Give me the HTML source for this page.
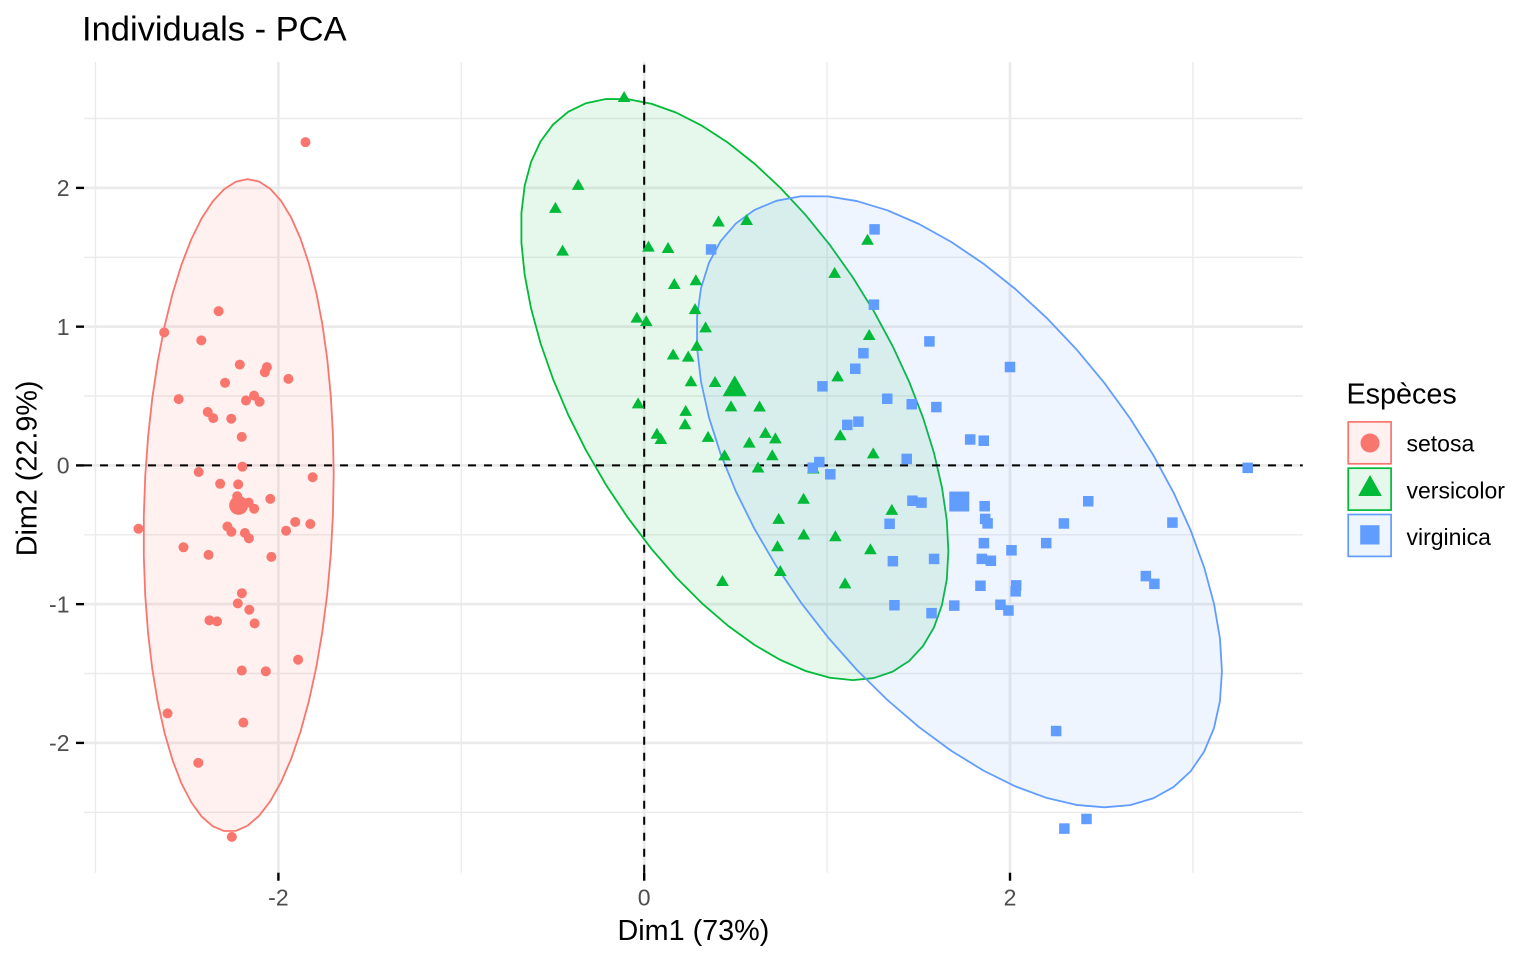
<!DOCTYPE html>
<html><head><meta charset="utf-8">
<style>
html,body{margin:0;padding:0;background:#fff;}
svg{display:block;font-family:"Liberation Sans",Arial,sans-serif;}
</style></head><body>
<svg id="s" width="1536" height="960" viewBox="0 0 1536 960">
<rect width="1536" height="960" fill="#fff"/>
<g stroke="#EBEBEB" fill="none">
  <g stroke-width="1.39">
    <line x1="95.5" y1="62" x2="95.5" y2="872.7"/>
    <line x1="461.3" y1="62" x2="461.3" y2="872.7"/>
    <line x1="827.1" y1="62" x2="827.1" y2="872.7"/>
    <line x1="1192.9" y1="62" x2="1192.9" y2="872.7"/>
    <line x1="84" y1="118.5" x2="1302.7" y2="118.5"/>
    <line x1="84" y1="257.3" x2="1302.7" y2="257.3"/>
    <line x1="84" y1="396" x2="1302.7" y2="396"/>
    <line x1="84" y1="534.8" x2="1302.7" y2="534.8"/>
    <line x1="84" y1="673.5" x2="1302.7" y2="673.5"/>
    <line x1="84" y1="812.3" x2="1302.7" y2="812.3"/>
  </g>
  <g stroke-width="2.7">
    <line x1="278.4" y1="62" x2="278.4" y2="872.7"/>
    <line x1="644.2" y1="62" x2="644.2" y2="872.7"/>
    <line x1="1010" y1="62" x2="1010" y2="872.7"/>
    <line x1="84" y1="187.9" x2="1302.7" y2="187.9"/>
    <line x1="84" y1="326.65" x2="1302.7" y2="326.65"/>
    <line x1="84" y1="465.4" x2="1302.7" y2="465.4"/>
    <line x1="84" y1="604.15" x2="1302.7" y2="604.15"/>
    <line x1="84" y1="742.9" x2="1302.7" y2="742.9"/>
  </g>
</g>
<g id="ell"></g>
<g stroke="#000" stroke-width="2" stroke-dasharray="8 8" fill="none">
  <line x1="84" y1="465.4" x2="1302.7" y2="465.4"/>
  <line x1="644.2" y1="872.7" x2="644.2" y2="62"/>
</g>
<g id="pts"></g>
<g stroke="#000" stroke-width="2.4">
  <line x1="278.4" y1="872.7" x2="278.4" y2="880.7"/>
  <line x1="644.2" y1="872.7" x2="644.2" y2="880.7"/>
  <line x1="1010" y1="872.7" x2="1010" y2="880.7"/>
  <line x1="76" y1="187.9" x2="84" y2="187.9"/>
  <line x1="76" y1="326.65" x2="84" y2="326.65"/>
  <line x1="76" y1="465.4" x2="84" y2="465.4"/>
  <line x1="76" y1="604.15" x2="84" y2="604.15"/>
  <line x1="76" y1="742.9" x2="84" y2="742.9"/>
</g>
<g fill="#4D4D4D" font-size="23">
  <text x="278.4" y="905.7" text-anchor="middle">-2</text>
  <text x="644.2" y="905.7" text-anchor="middle">0</text>
  <text x="1010" y="905.7" text-anchor="middle">2</text>
  <text x="69.5" y="196.1" text-anchor="end">2</text>
  <text x="69.5" y="334.85" text-anchor="end">1</text>
  <text x="69.5" y="473.6" text-anchor="end">0</text>
  <text x="69.5" y="612.35" text-anchor="end">-1</text>
  <text x="69.5" y="751.1" text-anchor="end">-2</text>
</g>
<text x="693.4" y="940" font-size="28.75" text-anchor="middle" fill="#000">Dim1 (73%)</text>
<text transform="translate(36.7,468.4) rotate(-90)" font-size="28.75" text-anchor="middle" fill="#000">Dim2 (22.9%)</text>
<text x="82" y="40.5" font-size="34.5" fill="#000">Individuals - PCA</text>
<text x="1346.5" y="403.3" font-size="28.75" fill="#000">Espèces</text>
<g stroke-width="1.7">
  <rect x="1348.2" y="421.9" width="42.9" height="41.9" fill="#FEF1F0" stroke="#F8766D"/>
  <rect x="1348.2" y="468.2" width="42.9" height="41.9" fill="#E6F8EB" stroke="#00BA38"/>
  <rect x="1348.2" y="514.5" width="42.9" height="41.9" fill="#EFF5FF" stroke="#619CFF"/>
</g>
<circle cx="1370" cy="443" r="9.5" fill="#F8766D"/>
<polygon points="1370,475 1381.8,496 1358.2,496" fill="#00BA38"/>
<rect x="1360.2" y="525.2" width="19.3" height="19.3" fill="#619CFF"/>
<g font-size="23" fill="#000">
  <text x="1406.5" y="451.7">setosa</text>
  <text x="1406.5" y="498.3">versicolor</text>
  <text x="1406.5" y="545">virginica</text>
</g>
</svg>
<script>
(function(){
var S=[[5.1,3.5,1.4,0.2],[4.9,3.0,1.4,0.2],[4.7,3.2,1.3,0.2],[4.6,3.1,1.5,0.2],[5.0,3.6,1.4,0.2],
[5.4,3.9,1.7,0.4],[4.6,3.4,1.4,0.3],[5.0,3.4,1.5,0.2],[4.4,2.9,1.4,0.2],[4.9,3.1,1.5,0.1],
[5.4,3.7,1.5,0.2],[4.8,3.4,1.6,0.2],[4.8,3.0,1.4,0.1],[4.3,3.0,1.1,0.1],[5.8,4.0,1.2,0.2],
[5.7,4.4,1.5,0.4],[5.4,3.9,1.3,0.4],[5.1,3.5,1.4,0.3],[5.7,3.8,1.7,0.3],[5.1,3.8,1.5,0.3],
[5.4,3.4,1.7,0.2],[5.1,3.7,1.5,0.4],[4.6,3.6,1.0,0.2],[5.1,3.3,1.7,0.5],[4.8,3.4,1.9,0.2],
[5.0,3.0,1.6,0.2],[5.0,3.4,1.6,0.4],[5.2,3.5,1.5,0.2],[5.2,3.4,1.4,0.2],[4.7,3.2,1.6,0.2],
[4.8,3.1,1.6,0.2],[5.4,3.4,1.5,0.4],[5.2,4.1,1.5,0.1],[5.5,4.2,1.4,0.2],[4.9,3.1,1.5,0.2],
[5.0,3.2,1.2,0.2],[5.5,3.5,1.3,0.2],[4.9,3.6,1.4,0.1],[4.4,3.0,1.3,0.2],[5.1,3.4,1.5,0.2],
[5.0,3.5,1.3,0.3],[4.5,2.3,1.3,0.3],[4.4,3.2,1.3,0.2],[5.0,3.5,1.6,0.6],[5.1,3.8,1.9,0.4],
[4.8,3.0,1.4,0.3],[5.1,3.8,1.6,0.2],[4.6,3.2,1.4,0.2],[5.3,3.7,1.5,0.2],[5.0,3.3,1.4,0.2]];
var V=[[7.0,3.2,4.7,1.4],[6.4,3.2,4.5,1.5],[6.9,3.1,4.9,1.5],[5.5,2.3,4.0,1.3],[6.5,2.8,4.6,1.5],
[5.7,2.8,4.5,1.3],[6.3,3.3,4.7,1.6],[4.9,2.4,3.3,1.0],[6.6,2.9,4.6,1.3],[5.2,2.7,3.9,1.4],
[5.0,2.0,3.5,1.0],[5.9,3.0,4.2,1.5],[6.0,2.2,4.0,1.0],[6.1,2.9,4.7,1.4],[5.6,2.9,3.6,1.3],
[6.7,3.1,4.4,1.4],[5.6,3.0,4.5,1.5],[5.8,2.7,4.1,1.0],[6.2,2.2,4.5,1.5],[5.6,2.5,3.9,1.1],
[5.9,3.2,4.8,1.8],[6.1,2.8,4.0,1.3],[6.3,2.5,4.9,1.5],[6.1,2.8,4.7,1.2],[6.4,2.9,4.3,1.3],
[6.6,3.0,4.4,1.4],[6.8,2.8,4.8,1.4],[6.7,3.0,5.0,1.7],[6.0,2.9,4.5,1.5],[5.7,2.6,3.5,1.0],
[5.5,2.4,3.8,1.1],[5.5,2.4,3.7,1.0],[5.8,2.7,3.9,1.2],[6.0,2.7,5.1,1.6],[5.4,3.0,4.5,1.5],
[6.0,3.4,4.5,1.6],[6.7,3.1,4.7,1.5],[6.3,2.3,4.4,1.3],[5.6,3.0,4.1,1.3],[5.5,2.5,4.0,1.3],
[5.5,2.6,4.4,1.2],[6.1,3.0,4.6,1.4],[5.8,2.6,4.0,1.2],[5.0,2.3,3.3,1.0],[5.6,2.7,4.2,1.3],
[5.7,3.0,4.2,1.2],[5.7,2.9,4.2,1.3],[6.2,2.9,4.3,1.3],[5.1,2.5,3.0,1.1],[5.7,2.8,4.1,1.3]];
var G=[[6.3,3.3,6.0,2.5],[5.8,2.7,5.1,1.9],[7.1,3.0,5.9,2.1],[6.3,2.9,5.6,1.8],[6.5,3.0,5.8,2.2],
[7.6,3.0,6.6,2.1],[4.9,2.5,4.5,1.7],[7.3,2.9,6.3,1.8],[6.7,2.5,5.8,1.8],[7.2,3.6,6.1,2.5],
[6.5,3.2,5.1,2.0],[6.4,2.7,5.3,1.9],[6.8,3.0,5.5,2.1],[5.7,2.5,5.0,2.0],[5.8,2.8,5.1,2.4],
[6.4,3.2,5.3,2.3],[6.5,3.0,5.5,1.8],[7.7,3.8,6.7,2.2],[7.7,2.6,6.9,2.3],[6.0,2.2,5.0,1.5],
[6.9,3.2,5.7,2.3],[5.6,2.8,4.9,2.0],[7.7,2.8,6.7,2.0],[6.3,2.7,4.9,1.8],[6.7,3.3,5.7,2.1],
[7.2,3.2,6.0,1.8],[6.2,2.8,4.8,1.8],[6.1,3.0,4.9,1.8],[6.4,2.8,5.6,2.1],[7.2,3.0,5.8,1.6],
[7.4,2.8,6.1,1.9],[7.9,3.8,6.4,2.0],[6.4,2.8,5.6,2.2],[6.3,2.8,5.1,1.5],[6.1,2.6,5.6,1.4],
[7.7,3.0,6.1,2.3],[6.3,3.4,5.6,2.4],[6.4,3.1,5.5,1.8],[6.0,3.0,4.8,1.8],[6.9,3.1,5.4,2.1],
[6.7,3.1,5.6,2.4],[6.9,3.1,5.1,2.3],[5.8,2.7,5.1,1.9],[6.8,3.2,5.9,2.3],[6.7,3.3,5.7,2.5],
[6.7,3.0,5.2,2.3],[6.3,2.5,5.0,1.9],[6.5,3.0,5.2,2.0],[6.2,3.4,5.4,2.3],[5.9,3.0,5.1,1.8]];
var groups=[S,V,G], all=S.concat(V,G), n=all.length;
var m=[0,0,0,0], sd=[0,0,0,0], i, j;
for(i=0;i<n;i++)for(j=0;j<4;j++)m[j]+=all[i][j];
for(j=0;j<4;j++)m[j]/=n;
for(i=0;i<n;i++)for(j=0;j<4;j++)sd[j]+=Math.pow(all[i][j]-m[j],2);
for(j=0;j<4;j++)sd[j]=Math.sqrt(sd[j]/(n-1));
var r1=[0.5210659,-0.2693474,0.5804131,0.5648565];
var r2=[-0.37741762,-0.92329566,-0.02449161,-0.06694199];
function sc(p){var a=0,b=0;for(var k=0;k<4;k++){var z=(p[k]-m[k])/sd[k];a+=z*r1[k];b+=z*r2[k];}return [a,b];}
function X(x){return 644.2+182.9*x;}
function Y(y){return 465.4-138.75*y;}
var cols=['#F8766D','#00BA38','#619CFF'];
var fills=['#F8766D','#00BA38','#619CFF'];
var rad=Math.sqrt(2*(49/2)*(Math.pow(0.05,-2/49)-1));
var ellH='', ptsH='', meanH='';
function shape(g,x,y,f){
  var c=cols[g];
  if(g===0){return '<circle cx="'+x.toFixed(2)+'" cy="'+y.toFixed(2)+'" r="'+(5*f).toFixed(2)+'" fill="'+c+'"/>';}
  if(g===1){var r=7.33*f, xc=6.35*f, yc=3.67*f;
    return '<polygon points="'+x.toFixed(2)+','+(y-r).toFixed(2)+' '+(x+xc).toFixed(2)+','+(y+yc).toFixed(2)+' '+(x-xc).toFixed(2)+','+(y+yc).toFixed(2)+'" fill="'+c+'"/>';}
  var h=5.25*f;
  return '<rect x="'+(x-h).toFixed(2)+'" y="'+(y-h).toFixed(2)+'" width="'+(2*h).toFixed(2)+'" height="'+(2*h).toFixed(2)+'" fill="'+c+'"/>';
}
for(var g=0;g<3;g++){
  var sp=groups[g].map(sc), k=sp.length;
  var mx=0,my=0;
  for(i=0;i<k;i++){mx+=sp[i][0];my+=sp[i][1];}
  mx/=k;my/=k;
  var sxx=0,syy=0,sxy=0;
  for(i=0;i<k;i++){var dx=sp[i][0]-mx, dy=sp[i][1]-my;sxx+=dx*dx;syy+=dy*dy;sxy+=dx*dy;}
  sxx/=(k-1);syy/=(k-1);sxy/=(k-1);
  var a=Math.sqrt(sxx), b=sxy/a, c=Math.sqrt(syy-b*b);
  var pts=[];
  for(i=0;i<=51;i++){
    var t=i*2*Math.PI/51, ct=Math.cos(t), st=Math.sin(t);
    var ex=mx+rad*(ct*a), ey=my+rad*(ct*b+st*c);
    pts.push(X(ex).toFixed(2)+','+Y(ey).toFixed(2));
  }
  ellH+='<polygon points="'+pts.join(' ')+'" fill="'+fills[g]+'" fill-opacity="0.1" stroke="'+cols[g]+'" stroke-width="1.8" stroke-linejoin="round"/>';
  for(i=0;i<k;i++){ptsH+=shape(g,X(sp[i][0]),Y(sp[i][1]),1);}
  meanH+=shape(g,X(mx),Y(my),1.9);
}
document.getElementById('ell').innerHTML=ellH;
document.getElementById('pts').innerHTML=ptsH+meanH;
})();
</script>
</body></html>
